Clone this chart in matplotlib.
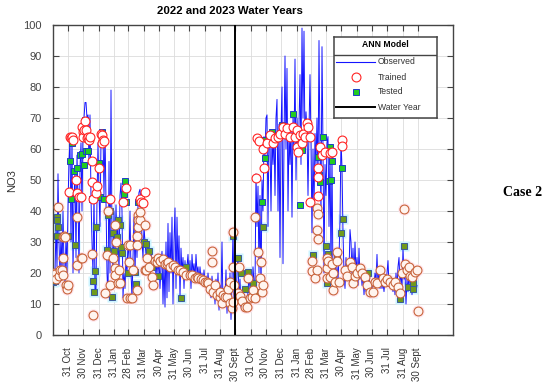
import matplotlib
matplotlib.use("Agg")
import matplotlib.pyplot as plt
import numpy as np
import pandas as pd

# ---------- data ----------
START = pd.Timestamp("2021-10-01")

# observed NO3, one value every 2 days from 1 Oct 2021
obs_wy2022 = [
    18, 17, 20, 35, 22, 52, 30, 19, 33, 20, 40, 22, 17, 32, 20, 42, 56, 63, 30, 64,
    20, 44, 53, 25, 58, 45, 20, 54, 62, 40, 66, 70, 75, 75, 70, 71, 55, 71, 44, 30,
    20, 46, 14, 15, 44, 62, 45, 35, 63, 66, 65, 45, 66, 44, 20, 12, 56, 20, 79, 30,
    20, 40, 25, 42, 30, 35, 20, 45, 49, 40, 12, 20, 15, 25, 20, 30, 25, 40, 20, 12,
    25, 38, 20, 35, 25, 42, 46, 47, 43, 30, 25, 35, 30, 26, 25, 30, 22, 25, 27, 22,
    25, 21, 24, 19, 24, 20, 25, 15, 22, 27, 10, 24, 9, 30, 12, 36, 14, 33, 20, 38,
    10, 30, 41, 15, 38, 20, 32, 12, 28, 20, 25, 15, 24, 18, 22, 26, 19, 24, 15, 26,
    20, 23, 18, 26, 20, 22, 17, 22, 18, 20, 16, 21, 17, 19, 14, 20, 16, 18, 12, 19,
    14, 17, 10, 18, 12, 20, 8, 16, 12, 30, 9, 15, 12, 21, 7, 17, 10, 20, 5, 18,
    33, 12, 15,
]
obs_wy2023 = [
    10, 20, 25, 12, 18, 9, 14, 10, 13, 8, 12, 9, 14, 19, 15, 20, 12, 22, 17, 15,
    52, 35, 48, 20, 45, 13, 50, 40, 64, 58, 70, 71, 35, 65, 62, 40, 64, 55, 66, 45,
    70, 76, 40, 68, 25, 66, 80, 23, 62, 90, 60, 86, 40, 66, 55, 68, 38, 70, 60, 89,
    50, 70, 60, 68, 84, 55, 99, 70, 98, 60, 72, 66, 45, 66, 84, 62, 33, 60, 40, 65,
    55, 70, 50, 95, 60, 40, 93, 60, 20, 55, 45, 62, 64, 35, 60, 20, 58, 16, 22, 25,
    17, 22, 18, 25, 37, 63, 54, 33, 20, 15, 25, 18, 22, 20, 34, 30, 20, 28, 18, 30,
    20, 25, 16, 28, 18, 22, 16, 20, 13, 19, 14, 18, 13, 20, 14, 17, 15, 18, 16, 20,
    17, 26, 16, 20, 15, 18, 15, 17, 14, 18, 16, 20, 24, 16, 18, 15, 17, 14, 18, 13,
    20, 15, 22, 25, 17, 20, 15, 28, 18, 20, 10, 18, 14, 20, 16, 19, 13, 18, 15, 17,
    14, 16,
]
observed = obs_wy2022 + obs_wy2023

# trained points: day since 1 Oct 2021, NO3
trained_day = [
    2, 4, 6, 10, 12, 14, 18, 20, 20, 20, 22, 24, 26, 28, 30, 32, 34, 36, 38, 40,
    46, 48, 48, 48, 52, 56, 56, 58, 58, 60, 60, 62, 64, 66, 68, 70, 72, 74, 78, 78,
    78, 80, 80, 86, 88, 92, 96, 98, 100, 98, 102, 104, 108, 110, 114, 114, 120, 124, 124, 124,
    126, 130, 132, 134, 140, 146, 148, 150, 152, 154, 154, 158, 160, 168, 168, 168, 170, 170, 170, 174,
    174, 174, 176, 180, 184, 184, 184, 186, 188, 192, 198, 200, 204, 208, 210, 214, 220, 224, 228, 230,
    234, 240, 244, 250, 254, 260, 266, 274, 278, 284, 288, 290, 296, 300, 304, 308, 310, 314, 318, 318,
    320, 324, 328, 334, 334, 338, 340, 344, 348, 350, 354, 354, 358, 360, 360, 360, 362,
    370, 372, 374, 378, 384, 388, 390, 394, 398, 400, 404, 404, 406, 408, 412, 410, 414, 416, 418,
    420, 420, 422, 428, 434, 440, 444, 450, 454, 460, 464, 468, 474, 480, 484, 488, 488, 490, 494, 498,
    500, 504, 508, 510, 514, 514, 518, 518, 524, 528, 528, 528, 530, 530, 530, 530, 530, 534, 538, 544,
    548, 548, 548, 550, 554, 554, 558, 558, 560, 560, 564, 568, 568, 572, 578, 578, 584, 588, 594, 598,
    600, 604, 608, 614, 618, 624, 628, 634, 640, 644, 648, 654, 660, 664, 668, 674, 680, 684, 690, 694,
    698, 702, 704, 708, 712, 714, 718, 724, 728, 730,
]
trained_val = [
    20, 19.6, 18, 41.3, 19, 21, 21, 31.6, 25, 19.4, 32, 31.6, 16, 15, 16, 46, 64, 63.5, 64, 63,
    50, 45.8, 38, 22.6, 44.5, 44.5, 25, 25, 67, 65.5, 64, 66, 69, 66, 63.5, 64, 63, 64, 56, 49.5,
    26, 6.5, 44, 45.7, 48, 54, 65, 64.5, 63, 62, 62.5, 13.5, 25.8, 40, 44, 16, 24.8, 35.5, 21.6, 19.4,
    30, 16.7, 21, 16.7, 43, 47.5, 12, 29, 23.5, 29, 12, 12, 21, 32, 29, 14.5, 38.7, 37, 35, 44,
    37, 39.7, 43, 42.6, 46, 35.5, 21, 21, 24.8, 22, 18.7, 16, 24, 23.5, 24.8, 24, 24.5, 23, 23, 23.5,
    22, 22.6, 22, 21, 21, 20.3, 19.5, 19.4, 19.4, 18.5, 18.7, 18.4, 18, 17.7, 17, 17, 16.7, 15, 27, 23.5,
    14, 16, 13, 12.3, 14, 10.3, 13, 12.3, 12.3, 15, 17, 10.3, 8.7, 33.2, 22, 10.7, 16,
    13.5, 22, 12.6, 11, 9, 9, 18.4, 12, 12.3, 14.5, 12, 38, 50.5, 63.5, 62.5, 26.8, 18.4, 23.5, 14,
    60, 16, 54, 62, 64.5, 62, 63.5, 64, 65, 67, 65, 66.7, 64, 67, 64, 66, 60.6, 59, 64.5, 62,
    65, 64, 68.4, 67, 64, 43, 24, 20.6, 18.4, 41, 34, 21, 54, 45, 39, 31, 51, 60.6, 58, 59,
    25, 21.6, 18.4, 24, 58.7, 18.7, 59, 23, 20, 14.5, 17, 26.8, 24, 17, 63, 61, 21, 19, 23.5, 22,
    16.7, 19, 20, 21.6, 20, 18.7, 16, 14, 14, 17, 16.7, 21, 18.4, 17, 18, 17, 16, 17, 15.5, 13.5,
    20, 40.6, 23, 21, 22, 19, 18.7, 20.3, 21, 7.7,
]

# tested points: day since 1 Oct 2021, NO3
tested_day = [
    0, 2, 4, 8, 8, 10, 8, 12, 14, 16, 20, 22, 30, 34, 38, 36, 42, 44, 48, 54,
    58, 62, 64, 66, 70, 78, 80, 82, 84, 86, 92, 94, 98, 102, 108, 110, 114, 118, 120, 122,
    128, 130, 134, 136, 138, 142, 144, 146, 150, 156, 164, 166, 170, 174, 182, 186, 192, 198, 210, 256,
    266, 324, 338, 346, 360,
    368, 370, 376, 384, 390, 400, 404, 418, 420, 420, 424, 438, 458, 480, 494, 498, 520, 530, 532, 534,
    540, 546, 548, 550, 552, 554, 556, 558, 568, 576, 580, 578, 630, 638, 664, 694, 702, 710, 720, 720,
]
tested_val = [
    17, 17.4, 17.4, 38, 37, 35, 32, 20, 21, 19, 21, 25, 32, 56, 62, 44, 53, 29, 54, 58,
    58.4, 55, 69.5, 59.5, 59.4, 44, 17.4, 14, 20.6, 35, 55.5, 44.5, 65.5, 44, 27.4, 38.7, 40, 12.3, 33, 27,
    31.6, 37, 35.5, 28.4, 26.4, 45.5, 49.7, 43, 20, 12, 20.3, 16.5, 43, 43, 30, 29.5, 27, 22, 19, 12,
    22, 15, 14, 13, 32,
    22, 25, 20, 15, 20.3, 16.7, 14, 43, 35, 63, 57, 65.5, 67.7, 71.3, 42, 59.7, 25.8, 57.4, 51.6, 49.4,
    64, 28.7, 16.7, 26, 49.7, 60.6, 50, 56, 25, 33, 37.4, 54, 20, 13.5, 17, 11.6, 28.7, 15.5, 14.8, 16.7,
]

month_ends = ["2021-10-31", "2021-11-30", "2021-12-31", "2022-01-31", "2022-02-28",
              "2022-03-31", "2022-04-30", "2022-05-31", "2022-06-30", "2022-07-31",
              "2022-08-31", "2022-09-30",
              "2022-10-31", "2022-11-30", "2022-12-31", "2023-01-31", "2023-02-28",
              "2023-03-31", "2023-04-30", "2023-05-31", "2023-06-30", "2023-07-31",
              "2023-08-31", "2023-09-30"]
month_labels = ["31 Oct", "30 Nov", "31 Dec", "31 Jan", "28 Feb", "31 Mar", "30 Apr",
                "31 May", "30 Jun", "31 Jul", "31 Aug", "30 Sept"] * 2
water_year_break = "2022-09-30"

# ---------- styling ----------
plt.rcParams.update({
    "font.family": ["Liberation Sans", "DejaVu Sans"],
    "axes.linewidth": 1.0,
    "axes.edgecolor": "#444444",
})

LINE_BLUE = "#1414ff"
RED = "#ff2424"
GREEN = "#22cc22"
EDGE_BLUE = "#1e3cc8"
LOW = 42  # markers below this look washed out in the reference

obs_dates = pd.date_range(START, periods=len(observed), freq="2D")
tr_dates = START + pd.to_timedelta(trained_day, unit="D")
te_dates = START + pd.to_timedelta(tested_day, unit="D")
tr_val = np.array(trained_val)
te_val = np.array(tested_val)

fig = plt.figure(figsize=(5.5, 3.88), dpi=100)
ax = fig.add_axes([53 / 550, 53 / 388, 400 / 550, 310 / 388])

ax.plot(obs_dates, observed, color=LINE_BLUE, lw=0.7, zorder=3)

# faint halos behind the low markers
lo_t = te_val < LOW
ax.plot(te_dates[lo_t], te_val[lo_t], "s", ms=6.5, color="#cdf4ff", mec="none", zorder=2)
lo_c = tr_val < LOW
ax.plot(tr_dates[lo_c], tr_val[lo_c], "o", ms=9, color="#ffe6ee", mec="none", zorder=2)

ax.plot(te_dates[~lo_t], te_val[~lo_t], "s", ms=4.3, mfc=GREEN, mec=EDGE_BLUE, mew=0.7, zorder=4)
ax.plot(te_dates[lo_t], te_val[lo_t], "s", ms=4.3, mfc="#6f9a1c", mec="#3a5a9a", mew=0.7, zorder=4)
ax.plot(tr_dates[~lo_c], tr_val[~lo_c], "o", ms=6.4, mfc="white", mec=RED, mew=0.8, zorder=5)
ax.plot(tr_dates[lo_c], tr_val[lo_c], "o", ms=6.4, mfc="#fff4ef", mec="#c8643c", mew=0.8, zorder=5)

ax.axvline(pd.Timestamp(water_year_break), color="black", lw=1.4, zorder=6)

ax.set_xlim(START, pd.Timestamp("2023-12-10"))
ax.set_ylim(0, 100)
ax.set_yticks(range(0, 101, 10))
ax.set_xticks(pd.to_datetime(month_ends))
ax.set_xticklabels(month_labels, rotation=90, fontsize=7, color="#333333")
ax.tick_params(axis="x", direction="in", top=True, length=4, pad=9, color="#444444")
ax.tick_params(axis="y", direction="in", right=True, length=4, pad=8,
               labelsize=8, labelcolor="#444444", color="#444444")
ax.grid(True, color="#dcdcdc", lw=0.6, zorder=0)
ax.set_axisbelow(True)

fig.text(12 / 550, 1 - 181 / 388, "NO3", rotation=90, ha="center", va="center",
         fontsize=8, color="#333333")
fig.text(230 / 550, 1 - 11 / 388, "2022 and 2023 Water Years", ha="center", va="center",
         fontsize=8.2, fontweight="bold")
fig.text(523 / 550, 1 - 192 / 388, "Case 2", ha="center", va="center", fontsize=10,
         fontweight="bold", family=["Liberation Serif", "DejaVu Serif"])

# ---------- legend box ----------
lg = fig.add_axes([334 / 550, 1 - 118 / 388, 103 / 550, 81 / 388])
lg.set_xlim(0, 103)
lg.set_ylim(81, 0)
lg.set_xticks([])
lg.set_yticks([])
for s in lg.spines.values():
    s.set_color("#444444")
    s.set_linewidth(1.1)
lg.set_facecolor("white")
lg.text(51, 7.5, "ANN Model", ha="center", va="center", fontsize=6.2, fontweight="bold")
lg.axhline(18, color="#444444", lw=1.0)
rows = [("Observed", 25), ("Trained", 40), ("Tested", 55), ("Water Year", 70)]
lg.plot([2, 41], [25, 25], color=LINE_BLUE, lw=0.8)
lg.plot([22], [40], "o", ms=6.4, mfc="white", mec=RED, mew=0.8)
lg.plot([22], [55], "s", ms=4.3, mfc=GREEN, mec=EDGE_BLUE, mew=0.7)
lg.plot([2, 41], [70, 70], color="black", lw=1.4)
for label, y in rows:
    lg.text(44, y, label, ha="left", va="center", fontsize=6.2, color="#333333")

fig.savefig("out.png", dpi=100)
